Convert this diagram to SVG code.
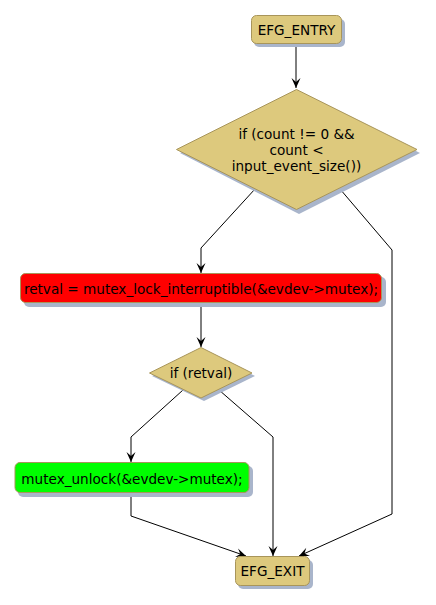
<svg xmlns="http://www.w3.org/2000/svg" width="436" height="605" viewBox="0 0 436 605">
<style>
.n{fill:#DDC97D;stroke:#A8955A;stroke-width:1}
.sh{fill:#A9B5CB}
.t{font-family:"DejaVu Sans",sans-serif;font-size:13.6px;fill:#000;text-anchor:middle}
.e{fill:none;stroke:#000;stroke-width:1}
</style>
<defs>
<marker id="a" viewBox="-11 -5 12 10" refX="0" refY="0" markerWidth="12" markerHeight="10" markerUnits="userSpaceOnUse" orient="auto">
<path d="M0,0 L-10,-4.5 L-6,0 L-10,4.5 Z" fill="#000"/>
</marker>
</defs>
<g id="connectors">
<path class="e" d="M296,44 L296,88" marker-end="url(#a)"/>
<path class="e" d="M255,189 L201,248 L201,273" marker-end="url(#a)"/>
<path class="e" d="M340,189 L392,250 L392,514 L299,556" marker-end="url(#a)"/>
<path class="e" d="M201,303 L201,347" marker-end="url(#a)"/>
<path class="e" d="M183,390 L131,437 L131,462" marker-end="url(#a)"/>
<path class="e" d="M219,390 L273,437 L273,556" marker-end="url(#a)"/>
<path class="e" d="M131,493 L131,516 L246,556" marker-end="url(#a)"/>
</g>
<g id="entry">
<rect class="sh" x="254" y="19" width="91" height="28" rx="5"/>
<rect class="n" x="251.5" y="15.5" width="90" height="28" rx="5"/>
<text class="t" x="296.5" y="34.5">EFG_ENTRY</text>
</g>
<g id="cond1">
<polygon class="sh" points="299,92 420,153 299,214 180,153"/>
<polygon class="n" points="296.5,89.5 417,149.5 296.5,209.5 176.5,149.5"/>
<text class="t" x="296.5" y="139">if (count != 0 &amp;&amp;</text>
<text class="t" x="296.5" y="155">count &lt;</text>
<text class="t" x="296.5" y="171">input_event_size())</text>
</g>
<g id="lock">
<rect class="sh" x="24" y="277" width="362" height="30" rx="5"/>
<rect x="20.5" y="273.5" width="361" height="29" rx="5" fill="#FF0000" stroke="#A8955A"/>
<text class="t" x="201" y="293.5">retval = mutex_lock_interruptible(&amp;evdev-&gt;mutex);</text>
</g>
<g id="cond2">
<polygon class="sh" points="204,350 255,376 204,401 152,376"/>
<polygon class="n" points="201,347.5 252,373 201,398 149.5,373"/>
<text class="t" x="201" y="378">if (retval)</text>
</g>
<g id="unlock">
<rect class="sh" x="18" y="466" width="235" height="31" rx="5"/>
<rect x="15" y="462.5" width="234" height="30" rx="5" fill="#00FF00" stroke="#A8955A"/>
<text class="t" x="132" y="483.5">mutex_unlock(&amp;evdev-&gt;mutex);</text>
</g>
<g id="exit">
<rect class="sh" x="238" y="560" width="75" height="29" rx="5"/>
<rect class="n" x="235.5" y="556.5" width="74" height="29" rx="5"/>
<text class="t" x="272.5" y="576">EFG_EXIT</text>
</g>
</svg>
